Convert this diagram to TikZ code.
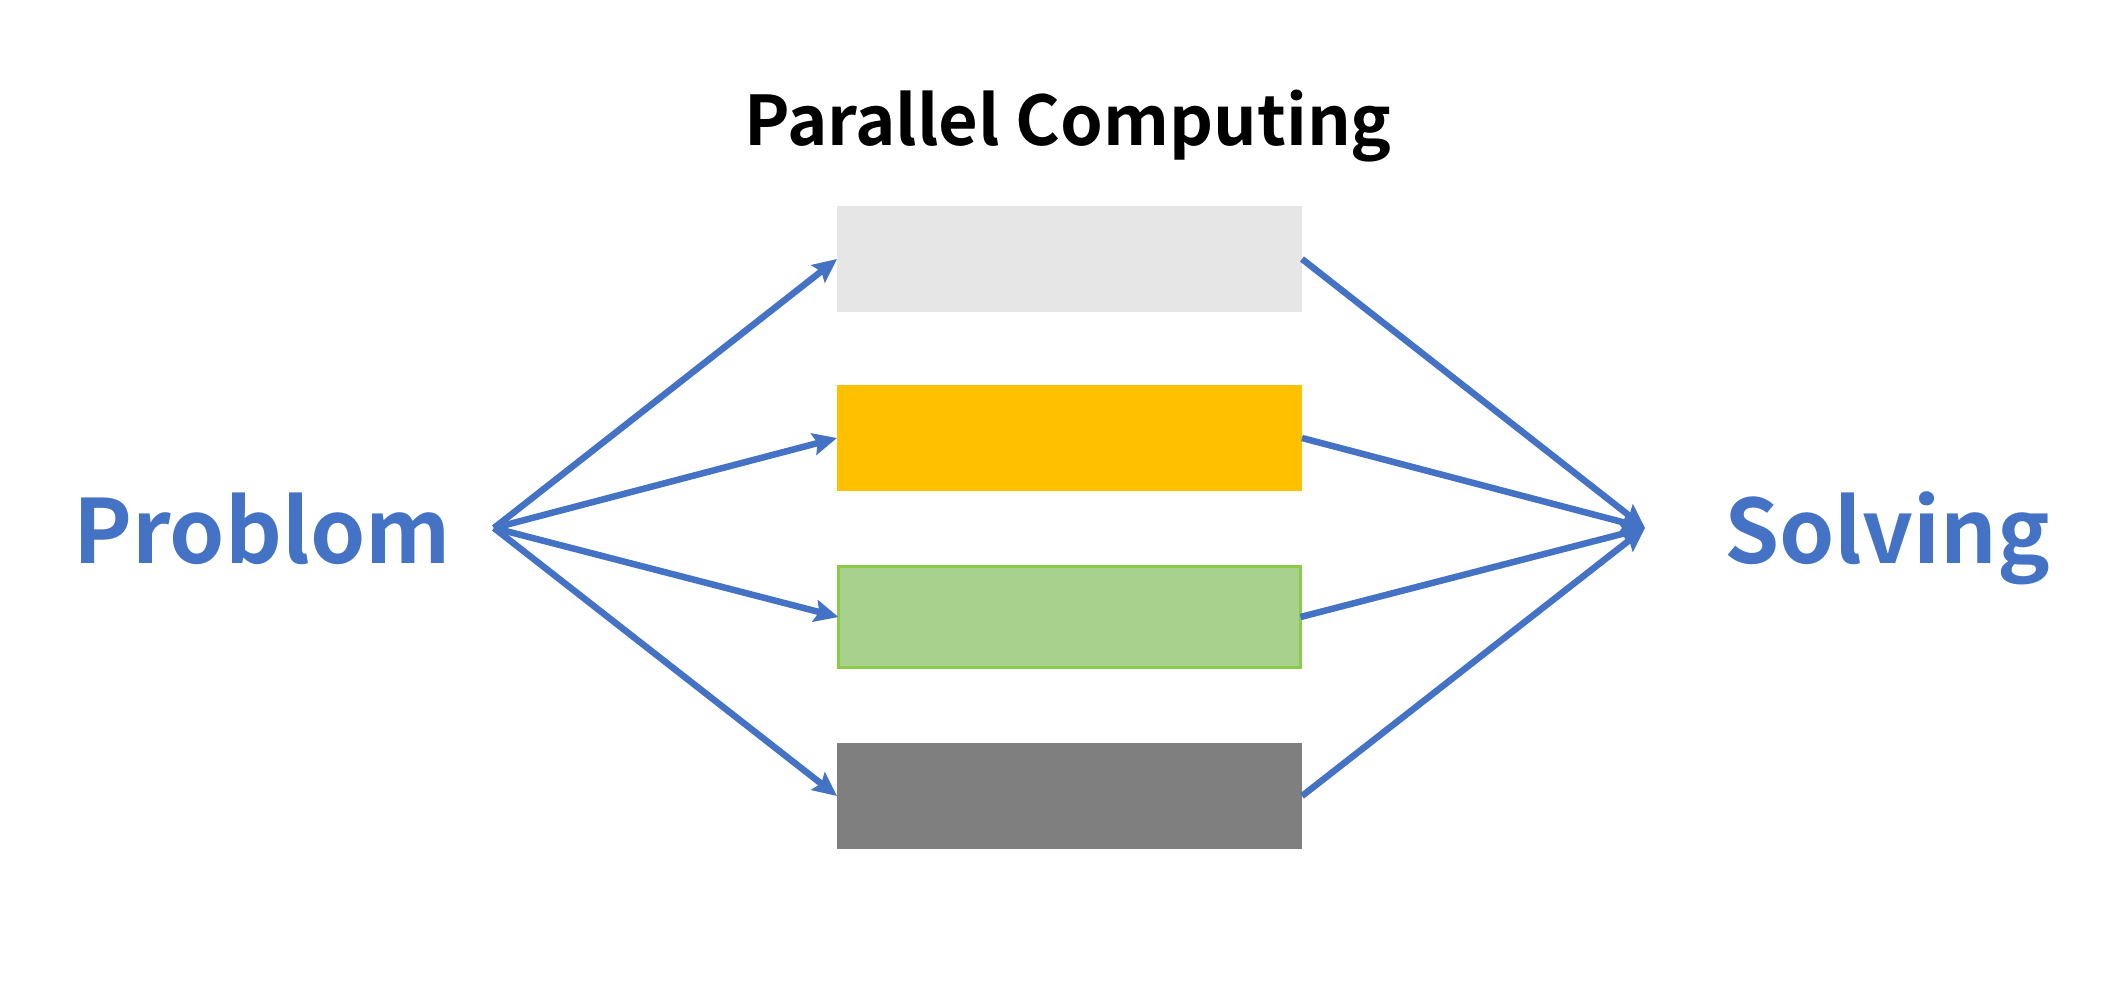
\documentclass[tikz,border=0pt]{standalone}
\usepackage{fontspec}
\setmainfont{Noto Sans CJK KR}[BoldFont={Noto Sans CJK KR Bold}]
\usetikzlibrary{arrows.meta}
\definecolor{lineblue}{HTML}{4472C4}
\definecolor{boxlight}{HTML}{E6E6E6}
\definecolor{boxyellow}{HTML}{FFC000}
\definecolor{boxgreen}{HTML}{A9D18E}
\definecolor{boxgreenline}{HTML}{8CCB4A}
\definecolor{boxdark}{HTML}{7F7F7F}
\tikzset{
  taskbox/.style={draw=none, minimum width=465pt, minimum height=106pt, inner sep=0pt, outer sep=0pt},
  flow/.style={draw=lineblue, line width=6.5pt, -{Stealth[length=24pt,width=22pt,inset=4pt]}},
  endlabel/.style={font=\fontsize{88.5}{100}\selectfont\bfseries, text=lineblue, inner sep=0pt},
}
\begin{document}
\begin{tikzpicture}[x=1pt,y=-1pt]
\useasboundingbox (0,0) rectangle (2111,986);
\node[anchor=base, font=\fontsize{68.5}{80}\selectfont\bfseries, inner sep=0pt] (title) at (1068,145) {Parallel Computing};
\node[taskbox, fill=boxlight] (b1) at (1069.5,259) {};
\node[taskbox, fill=boxyellow] (b2) at (1069.5,438) {};
\node[taskbox, fill=boxgreen, draw=boxgreenline, line width=3pt, minimum width=462pt, minimum height=101pt] (b3) at (1069.5,617) {};
\node[taskbox, fill=boxdark] (b4) at (1069.5,796) {};
\node[endlabel, anchor=base west] (prob) at (73,563) {Problom};
\node[endlabel, anchor=base west] (solv) at (1724,563) {Solving};
\coordinate (src) at (494,528);
\coordinate (dst) at (1645,528);
\foreach \b in {b1,b2,b3,b4}{
  \draw[flow] (src) -- (\b.west);
  \draw[flow] (\b.east) -- (dst);
}
\end{tikzpicture}
\end{document}
